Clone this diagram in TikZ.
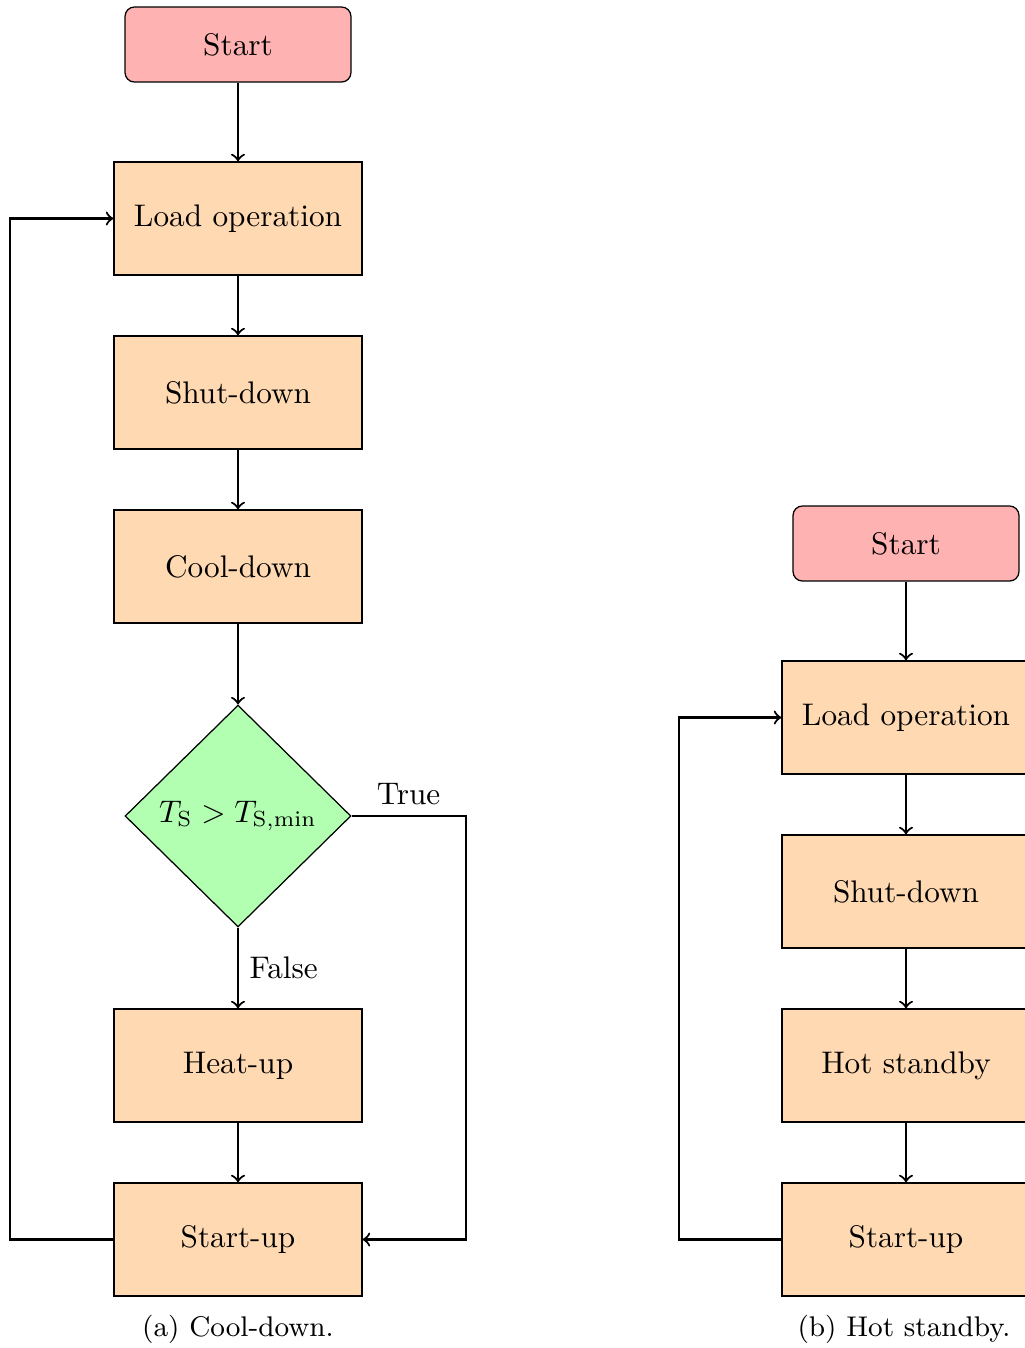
\documentclass[tikz,border=0pt]{standalone}
\usetikzlibrary{shapes.geometric}
\begin{document}
\begin{tikzpicture}[x=0.32pt,y=-0.32pt,
  startbox/.style={draw=black, fill=red!30, rounded corners=3pt, line width=0.4pt,
    minimum width=72.3pt, minimum height=24pt, inner sep=0pt},
  procbox/.style={draw=black, fill=orange!30, line width=0.4pt,
    minimum width=79.4pt, minimum height=36.2pt, inner sep=0pt},
  decbox/.style={draw=black, fill=green!30, shape=diamond, line width=0.4pt,
    minimum width=72.3pt, minimum height=71pt, inner sep=0pt},
  flow/.style={->, line width=0.7pt},
  caption/.style={font=\fontsize{9.1}{11}\selectfont}
]
\useasboundingbox (0,0) rectangle (1025,1348);

% (a) cool-down
\node[startbox] (sa) at (238,44.5) {Start};
\node[procbox] (la) at (238,218.5) {Load operation};
\node[procbox] (da) at (238,392.5) {Shut-down};
\node[procbox] (ca) at (238,566.5) {Cool-down};
\node[decbox] (qa) at (238,816) {$T_\mathrm{S} > T_\mathrm{S,min}$};
\node[procbox] (ha) at (238,1065.5) {Heat-up};
\node[procbox] (ua) at (238,1239.5) {Start-up};
\node[caption] (capa) at (238,1329) {(a) Cool-down.};

\draw[flow] (sa) -- (la);
\draw[flow] (la) -- (da);
\draw[flow] (da) -- (ca);
\draw[flow] (ca) -- (qa);
\draw[flow] (qa) -- node[right]{False} (ha);
\draw[flow] (ha) -- (ua);
\draw[flow] (qa.east) -- node[above]{True} ++(114,0) |- (ua.east);
\draw[flow] (ua.west) -- ++(-103,0) |- (la.west);

% (b) hot standby
\node[startbox] (sb) at (906,543.5) {Start};
\node[procbox] (lb) at (906,717.5) {Load operation};
\node[procbox] (db) at (906,891.5) {Shut-down};
\node[procbox] (hb) at (906,1065.5) {Hot standby};
\node[procbox] (ub) at (906,1239.5) {Start-up};
\node[caption] (capb) at (904,1329) {(b) Hot standby.};

\draw[flow] (sb) -- (lb);
\draw[flow] (lb) -- (db);
\draw[flow] (db) -- (hb);
\draw[flow] (hb) -- (ub);
\draw[flow] (ub.west) -- ++(-102,0) |- (lb.west);
\end{tikzpicture}
\end{document}
